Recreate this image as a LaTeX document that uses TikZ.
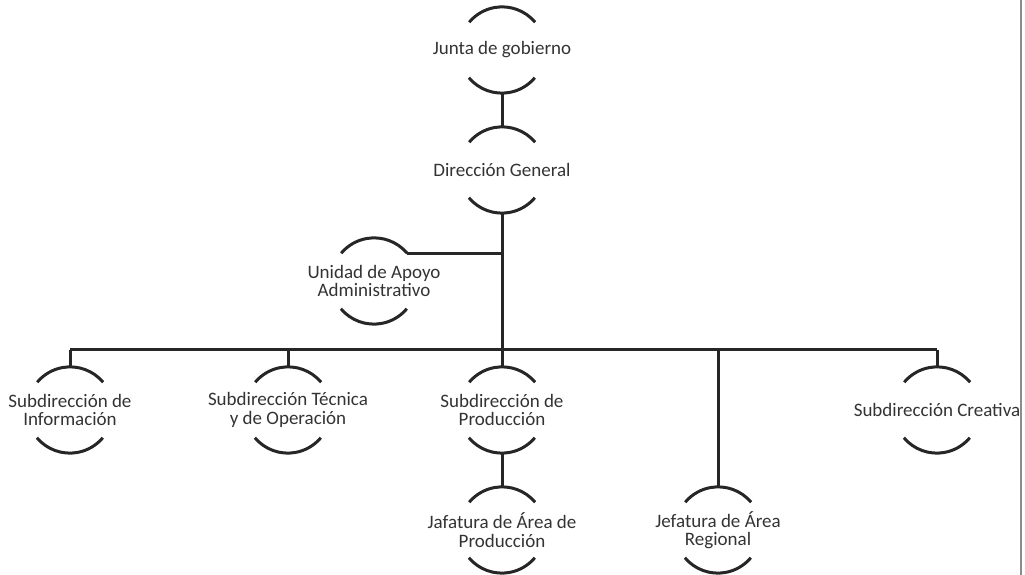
\documentclass[tikz,border=0pt]{standalone}
\usepackage{fontspec}
\setmainfont{Carlito}
\usetikzlibrary{calc}

\begin{document}
\begin{tikzpicture}
  [x=1pt,y=1pt,
   txt/.style={align=center,inner sep=0pt,
     font=\fontsize{19}{18.5}\selectfont,text=black!80},
   unit/.style={circle,minimum size=86pt,inner sep=0pt,
     label={[txt]center:#1}},
   orgline/.style={line width=3pt,draw=black!85}]

  \useasboundingbox (0,0) rectangle (1025,575);

  \node[unit={Junta de gobierno}]                      (junta)  at (502,525) {};
  \node[unit={Dirección General}]                      (dg)     at (502,405) {};
  \node[unit={Unidad de Apoyo\\Administrativo}]        (unidad) at (374,294) {};
  \node[unit={Subdirección de\\Información}]           (info)   at (70,165)  {};
  \node[unit={Subdirección Técnica\\y de Operación}]   (tec)    at (288,165) {};
  \node[unit={Subdirección de\\Producción}]            (prod)   at (502,165) {};
  \node[unit={Subdirección Creativa}]                  (crea)   at (937,165) {};
  \node[unit={Jafatura de Área de\\Producción}]        (jap)    at (502,45)  {};
  \node[unit={Jefatura de Área\\Regional}]             (jar)    at (718,45)  {};

  \coordinate (bus) at (0,225);

  % arcs above and below each text
  \foreach \n in {junta,dg,unidad,info,tec,prod,crea,jap,jar}
    \draw[orgline] (\n.40) arc[start angle=40,end angle=140,radius=43pt]
                   (\n.220) arc[start angle=220,end angle=320,radius=43pt];

  \draw[orgline] (junta.south) -- (dg.north);
  \draw[orgline] (dg.south) -- (prod.north);
  \draw[orgline] (unidad.40) -- (unidad.40 -| dg.south);
  \draw[orgline] (info.north |- bus) -- (crea.north |- bus);
  \foreach \n in {info,tec,jar,crea}
    \draw[orgline] (\n.north |- bus) -- (\n.north);
  \draw[orgline] (prod.south) -- (jap.north);

  % edge of the scanned sheet
  \draw[line width=1.5pt,black!45] (1021,0) -- (1021,575);
\end{tikzpicture}
\end{document}
